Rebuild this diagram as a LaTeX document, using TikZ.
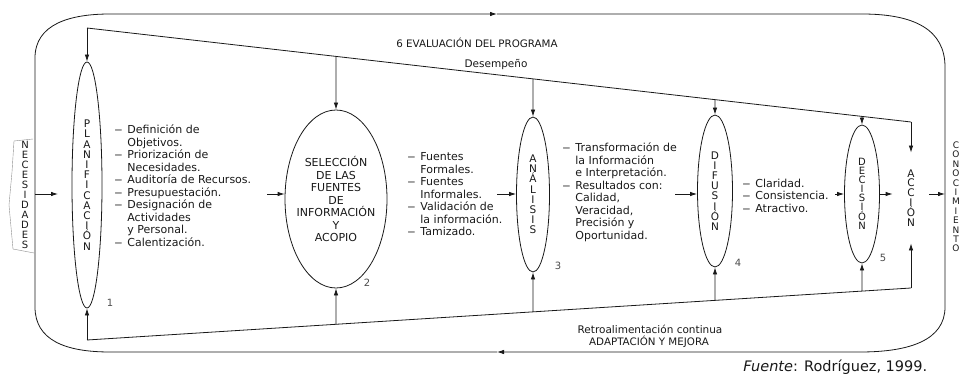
\documentclass[tikz,border=0pt]{standalone}
\usepackage{fontspec}
\setmainfont{DejaVu Sans}[ItalicFont={DejaVu Sans Oblique},BoldFont={DejaVu Sans Bold}]
\usetikzlibrary{arrows.meta,shapes.geometric,positioning}
\newcommand{\itmdash}{\makebox[13pt][l]{\scalebox{1.5}[1]{–}}}
\newcommand{\itmgap}{\hspace*{13pt}}
\begin{document}
\begin{tikzpicture}[x=1pt,y=-1pt,
                    >={Latex[length=7pt,width=4.5pt]},
                    line width=0.8pt,color=black!90,
                    stage/.style={ellipse,draw,inner sep=0pt,align=center,
                                  font=\fontsize{10.5}{10.2}\selectfont},
                    letters/.style={inner sep=0pt,align=center,font=\fontsize{10}{10}\selectfont},
                    itemlist/.style={anchor=north west,inner sep=0pt,align=left,
                                     font=\fontsize{11}{12.5}\selectfont},
                    heading/.style={inner sep=0pt,font=\fontsize{10.3}{12}\selectfont},
                    num/.style={inner sep=0pt,font=\fontsize{10}{12}\selectfont,text=black!70}]
        \useasboundingbox (0,0) rectangle (963,374);

        % Define stages
        \node[stage,minimum width=30pt,minimum height=246pt] (plan) at (87,185)
            {P\\L\\A\\N\\I\\F\\I\\C\\A\\C\\I\\Ó\\N};
        \node[stage,minimum width=102pt,minimum height=178pt,inner xsep=-10pt,
              font=\fontsize{11}{12.5}\selectfont] (sel) at (336,199)
            {SELECCIÓN\\DE LAS\\FUENTES\\DE\\INFORMACIÓN\\Y\\ACOPIO};
        \node[stage,minimum width=33pt,minimum height=155pt] (ana) at (533,194.5)
            {A\\N\\Á\\L\\I\\S\\I\\S};
        \node[stage,minimum width=35pt,minimum height=152pt] (dif) at (715,191)
            {D\\I\\F\\U\\S\\I\\Ó\\N};
        \node[stage,minimum width=35pt,minimum height=138pt,
              font=\fontsize{10}{9}\selectfont] (dec) at (862,194)
            {D\\E\\C\\I\\S\\I\\Ó\\N};
        \node[letters,minimum width=36pt,minimum height=90pt,
              font=\fontsize{10.5}{9.6}\selectfont] (acc) at (911,198)
            {A\\C\\C\\I\\Ó\\N};

        % Input and output words
        \node[letters] (nec) at (25,195)
            {N\\E\\C\\E\\S\\I\\D\\A\\D\\E\\S};
        \node[letters,font=\fontsize{9}{9.4}\selectfont] (con) at (956,197)
            {C\\O\\N\\O\\C\\I\\M\\I\\E\\N\\T\\O};
        \draw[line width=0.4pt,black!45] (33,139) -- (14,141) -- (12,172) -- (9,205)
            -- (13,249) -- (34,253);

        % Stage numbers
        \node[num] (n1) at (110,303) {1};
        \node[num] (n2) at (367,283) {2};
        \node[num] (n3) at (558,266) {3};
        \node[num] (n4) at (738,263) {4};
        \node[num] (n5) at (883,258) {5};

        % Lists
        \node[itemlist] (planlist) at (114,124.5)
            {\itmdash Definición de\\\itmgap Objetivos.\\\itmdash Priorización de\\
             \itmgap Necesidades.\\\itmdash Auditoría de Recursos.\\\itmdash Presupuestación.\\
             \itmdash Designación de\\\itmgap Actividades\\\itmgap y Personal.\\
             \itmdash Calentización.};
        \node[itemlist] (sellist) at (407,152.5)
            {\itmdash Fuentes\\\itmgap Formales.\\\itmdash Fuentes\\\itmgap Informales.\\
             \itmdash Validación de\\\itmgap la información.\\\itmdash Tamizado.};
        \node[itemlist] (analist) at (562,142.5)
            {\itmdash Transformación de\\\itmgap la Información\\\itmgap e Interpretación.\\
             \itmdash Resultados con:\\\itmgap Calidad,\\\itmgap Veracidad,\\
             \itmgap Precisión y\\\itmgap Oportunidad.};
        \node[itemlist] (diflist) at (742,178.5)
            {\itmdash Claridad.\\\itmdash Consistencia.\\\itmdash Atractivo.};

        % Headings
        \node[heading] (eval) at (477,43) {6 EVALUACIÓN DEL PROGRAMA};
        \node[heading,font=\fontsize{10.5}{12}\selectfont] (desemp) at (496,65) {Desempeño};
        \node[heading,font=\fontsize{10.5}{12}\selectfont] (retro) at (650,329)
            {Retroalimentación continua};
        \node[heading] (adapt) at (649,342) {ADAPTACIÓN Y MEJORA};
        \node[heading,anchor=base west,font=\fontsize{14.5}{16}\selectfont] (fuente) at (743,371)
            {\textit{Fuente}: Rodríguez, 1999.};

        % Outer loop
        \coordinate (lp) at (35,194);
        \coordinate (rp) at (945,194);
        \coordinate (topmid) at (497,14);
        \coordinate (botmid) at (497,352);
        \draw[->] (lp) -- (35,58) .. controls (35,24) and (70,14) .. (110,14) -- (topmid);
        \draw (topmid) -- (862,14) .. controls (915,14) and (945,30) .. (945,67) -- (rp);
        \draw[->] (rp) -- (945,307) .. controls (945,340) and (910,352) .. (860,352) -- (botmid);
        \draw (botmid) -- (110,352) .. controls (65,352) and (35,340) .. (35,307) -- (lp);

        % Performance line
        \coordinate (tl) at (87,28);
        \coordinate (tr) at (911,122);
        \draw (tl) -- (tr);
        \draw[->] (tl) -- (plan.north);
        \draw[->] (intersection of tl--tr and sel.north--sel.south) -- (sel.north);
        \draw[->] (intersection of tl--tr and ana.north--ana.south) -- (ana.north);
        \draw[->] (intersection of tl--tr and dif.north--dif.south) -- (dif.north);
        \draw[->] (intersection of tl--tr and dec.north--dec.south) -- (dec.north);
        \draw[->] (tr) -- (acc.north);

        % Feedback line
        \coordinate (bl) at (87,340);
        \coordinate (br) at (911,288);
        \draw (bl) -- (br);
        \draw[->] (bl) -- (plan.south);
        \draw[->] (intersection of bl--br and sel.north--sel.south) -- (sel.south);
        \draw[->] (intersection of bl--br and ana.north--ana.south) -- (ana.south);
        \draw[->] (intersection of bl--br and dif.north--dif.south) -- (dif.south);
        \draw[->] (intersection of bl--br and dec.north--dec.south) -- (dec.south);
        \draw[->] (br) -- (acc.south);

        % Flow between stages
        \coordinate (necin) at (58,194);
        \coordinate (planout) at (267,194);
        \coordinate (selout) at (497,194);
        \coordinate (anaout) at (675,194);
        \coordinate (difout) at (835,194);
        \draw[->] (lp) -- (necin);
        \draw[->] (planout) -- (planout -| sel.west);
        \draw[->] (selout) -- (selout -| ana.west);
        \draw[->] (anaout) -- (anaout -| dif.west);
        \draw[->] (difout) -- (difout -| dec.west);
        \draw[->] (dec.east) -- (dec.east -| acc.west);
        \draw[->] (dec.east -| acc.east) -- (dec.east -| rp);
\end{tikzpicture}
\end{document}
